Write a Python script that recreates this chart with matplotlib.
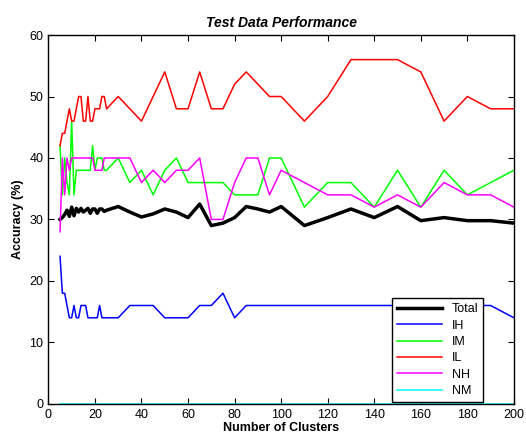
import matplotlib
matplotlib.use("Agg")
import matplotlib.pyplot as plt

clusters = list(range(5, 26)) + list(range(30, 101, 5)) + list(range(110, 201, 10))

total = [30.0, 30.3, 30.8, 31.5, 30.5, 32.0, 30.6, 31.8, 31.2, 31.8, 31.2, 31.5, 31.8, 31.0, 31.7,
         31.7, 31.0, 31.7, 31.7, 31.3, 31.5,
         32.1, 31.2, 30.4, 30.9, 31.7, 31.2, 30.3, 32.5, 29.0, 29.4, 30.3, 32.1, 31.7, 31.2, 32.1,
         29.0, 30.3, 31.7, 30.3, 32.1, 29.8, 30.3, 29.8, 29.8, 29.4]
ih = [24, 18, 18, 16, 14, 14, 16, 14, 14, 16, 16, 16, 14, 14, 14, 14, 14, 16, 14, 14, 14,
      14, 16, 16, 16, 14, 14, 14, 16, 16, 18, 14, 16, 16, 16, 16,
      16, 16, 16, 16, 16, 16, 16, 16, 16, 14]
im = [42, 34, 40, 36, 34, 46, 34, 38, 38, 38, 38, 38, 38, 38, 42, 38, 40, 40, 40, 38, 38,
      40, 36, 38, 34, 38, 40, 36, 36, 36, 36, 34, 34, 34, 40, 40,
      32, 36, 36, 32, 38, 32, 38, 34, 36, 38]
il = [42, 44, 44, 46, 48, 46, 46, 48, 50, 50, 46, 46, 50, 46, 46, 48, 48, 48, 50, 50, 48,
      50, 48, 46, 50, 54, 48, 48, 54, 48, 48, 52, 54, 52, 50, 50,
      46, 50, 56, 56, 56, 54, 46, 50, 48, 48]
nh = [28, 40, 34, 40, 38, 40, 40, 40, 40, 40, 40, 40, 40, 40, 40, 38, 38, 38, 38, 40, 40,
      40, 40, 36, 38, 36, 38, 38, 40, 30, 30, 36, 40, 40, 34, 38,
      36, 34, 34, 32, 34, 32, 36, 34, 34, 32]
nm = [0] * len(clusters)

plt.rcParams["font.family"] = ["Liberation Sans", "DejaVu Sans"]

fig = plt.figure(figsize=(5.26, 4.38), dpi=100)
ax = fig.add_axes([0.092, 0.078, 0.885, 0.842])

ax.plot(clusters, total, color="black", lw=2.5, label="Total")
ax.plot(clusters, ih, color="#0000ff", lw=1.1, label="IH")
ax.plot(clusters, im, color="#00ff00", lw=1.1, label="IM")
ax.plot(clusters, il, color="#ff0000", lw=1.1, label="IL")
ax.plot(clusters, nh, color="#ff00ff", lw=1.1, label="NH")
ax.plot(clusters, nm, color="#00ffff", lw=1.1, label="NM")

ax.set_xlim(0, 200)
ax.set_ylim(0, 60)
ax.set_xticks(range(0, 201, 20))
ax.set_yticks(range(0, 61, 10))
ax.tick_params(direction="in", top=True, right=True, labelsize=9, length=4, width=0.8)
for s in ax.spines.values():
    s.set_linewidth(1)

ax.set_title("Test Data Performance", fontsize=10, fontweight="bold", style="italic", pad=6)
ax.set_xlabel("Number of Clusters", fontsize=9, fontweight="bold", labelpad=1)
ax.set_ylabel("Accuracy (%)", fontsize=9, fontweight="bold", labelpad=4)

leg = ax.legend(loc="lower right", bbox_to_anchor=(0.948, -0.012), fontsize=9, frameon=True,
                fancybox=False, edgecolor="black", handlelength=3.6, borderpad=0.4,
                labelspacing=0.35, framealpha=1)
leg.get_frame().set_linewidth(1)

fig.savefig("out.png", dpi=100)
